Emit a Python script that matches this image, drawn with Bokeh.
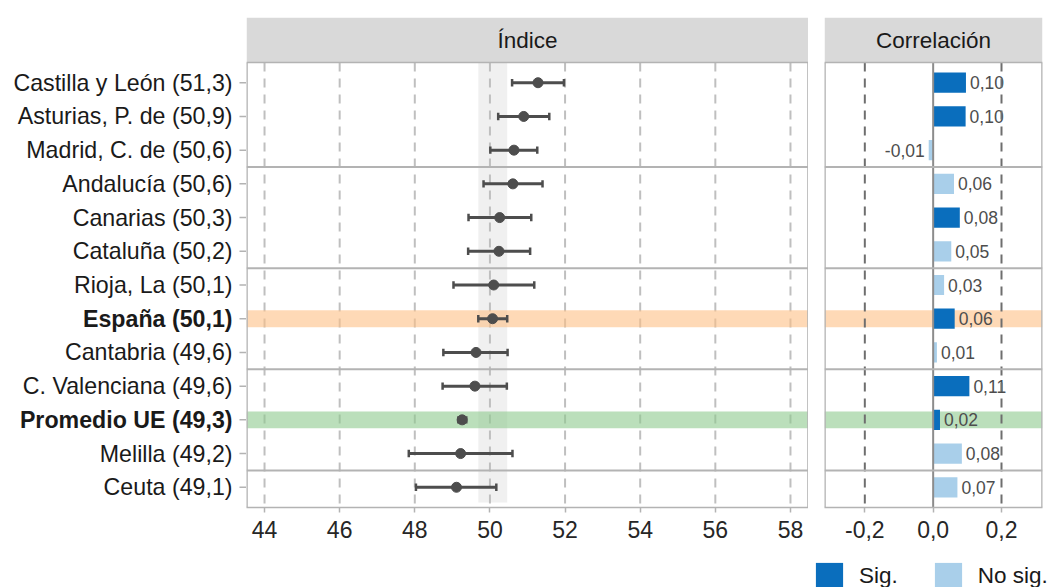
from bokeh.plotting import figure
from bokeh.layouts import row, column
from bokeh.models import ColumnDataSource, Range1d, FixedTicker, Legend, LegendItem
from bokeh.core.properties import value
from bokeh.embed import file_html
from bokeh.resources import INLINE

# ---------------- data ----------------
regions = ["Castilla y León", "Asturias, P. de", "Madrid, C. de", "Andalucía", "Canarias",
           "Cataluña", "Rioja, La", "España", "Cantabria", "C. Valenciana",
           "Promedio UE", "Melilla", "Ceuta"]
region_labels = ["Castilla y León (51,3)", "Asturias, P. de (50,9)", "Madrid, C. de (50,6)",
                 "Andalucía (50,6)", "Canarias (50,3)", "Cataluña (50,2)", "Rioja, La (50,1)",
                 "España (50,1)", "Cantabria (49,6)", "C. Valenciana (49,6)",
                 "Promedio UE (49,3)", "Melilla (49,2)", "Ceuta (49,1)"]
groups = [1, 1, 1, 2, 2, 2, 3, 3, 3, 4, 4, 4, 5]
index_est = [51.28, 50.90, 50.64, 50.61, 50.26, 50.24, 50.10, 50.07, 49.63, 49.60, 49.26, 49.22, 49.11]
ci_low = [50.59, 50.22, 50.01, 49.83, 49.43, 49.42, 49.03, 49.69, 48.76, 48.74, 49.16, 47.84, 48.03]
ci_high = [51.97, 51.58, 51.26, 51.40, 51.10, 51.07, 51.18, 50.46, 50.47, 50.45, 49.37, 50.60, 50.17]
corr = [0.096, 0.095, -0.013, 0.061, 0.078, 0.053, 0.032, 0.063, 0.011, 0.106, 0.020, 0.084, 0.071]
corr_labels = ["0,10", "0,10", "-0,01", "0,06", "0,08", "0,05", "0,03", "0,06", "0,01",
               "0,11", "0,02", "0,08", "0,07"]
significant = [True, True, False, False, True, False, False, True, False, True, True, False, False]
highlight = {"España": "#FDBF86", "Promedio UE": "#8DC98D"}
bold_rows = ["España", "Promedio UE"]
reference_row = "España"

index_ticks = [44, 46, 48, 50, 52, 54, 56, 58]
corr_ticks = [-0.2, 0.0, 0.2]
corr_tick_labels = ["-0,2", "0,0", "0,2"]
corr_ref_lines = [-0.2, 0.2]
panel_titles = ["Índice", "Correlación"]
legend_labels = ["Sig.", "No sig."]

# ---------------- style ----------------
FONT = "Liberation Sans"
SIG_COLOR = "#0A6EBD"
NOSIG_COLOR = "#A9CFEA"
BORDER = "#B3B3B3"
STRIP = "#D9D9D9"
DARK = "#4D4D4D"

n = len(regions)
ypos = list(range(1, n + 1))
Y_BOT = n + 0.6
PANEL_TOP = 0.4
Y_TOP = PANEL_TOP - 1.335
FRAME_H = 490
TOP_BORDER = 17
BOTTOM_BORDER = 45
LEG_H = 587 - TOP_BORDER - FRAME_H - BOTTOM_BORDER
LEG_GLYPH = 34

seps = [i + 0.5 for i in range(1, n) if groups[i] != groups[i - 1]]
hl_y = [ypos[i] for i, r in enumerate(regions) if r in highlight]
hl_c = [highlight[r] for r in regions if r in highlight]


def make_panel(x0, x1, fw, left_border, right_border, title):
    p = figure(frame_width=fw, frame_height=FRAME_H, x_range=Range1d(x0, x1),
               y_range=Range1d(Y_BOT, Y_TOP), output_backend="svg", toolbar_location=None,
               y_axis_location=None, min_border_left=left_border, min_border_right=right_border,
               min_border_top=TOP_BORDER, min_border_bottom=BOTTOM_BORDER)
    p.outline_line_color = None
    p.xgrid.visible = False
    p.ygrid.visible = False
    # strip
    p.quad(left=[x0], right=[x1], top=[Y_TOP], bottom=[PANEL_TOP], fill_color=STRIP, line_color=None)
    p.text(x=[(x0 + x1) / 2], y=[(Y_TOP + PANEL_TOP) / 2], text=[title], text_align="center",
           text_baseline="middle", text_font=value(FONT), text_font_size="22.5px", text_color="#1A1A1A")
    ax = p.xaxis[0]
    ax.axis_line_color = BORDER
    ax.axis_line_width = 1.3
    ax.major_tick_line_color = BORDER
    ax.major_tick_line_width = 1.5
    ax.major_tick_out = 5
    ax.major_tick_in = 0
    ax.minor_tick_out = 0
    ax.minor_tick_in = 0
    ax.major_label_standoff = 8
    ax.major_label_text_font = FONT
    ax.major_label_text_font_size = "23px"
    ax.major_label_text_color = "#262626"
    return p


def add_common(p, x0, x1):
    # highlight rows
    p.quad(left=x0, right=x1, top=[y - 0.25 for y in hl_y], bottom=[y + 0.25 for y in hl_y],
           fill_color=hl_c, fill_alpha=0.6, line_color=None)


def add_borders(p, x0, x1):
    p.segment(x0=[x0] * len(seps), y0=seps, x1=[x1] * len(seps), y1=seps,
              line_color=BORDER, line_width=2)
    p.segment(x0=[x0, x1], y0=[PANEL_TOP] * 2, x1=[x0, x1], y1=[Y_BOT] * 2,
              line_color=BORDER, line_width=2.6)
    p.segment(x0=[x0], y0=[PANEL_TOP], x1=[x1], y1=[PANEL_TOP], line_color=BORDER, line_width=1.3)


# ---------------- labels panel ----------------
p0 = figure(frame_width=246, frame_height=FRAME_H, x_range=Range1d(0, 246),
            y_range=Range1d(Y_BOT, Y_TOP), output_backend="svg", toolbar_location=None,
            x_axis_location=None, y_axis_location=None, min_border_left=0, min_border_right=0,
            min_border_top=TOP_BORDER, min_border_bottom=0)
p0.outline_line_color = None
p0.xgrid.visible = False
p0.ygrid.visible = False
lab_src = ColumnDataSource(dict(
    y=ypos, text=region_labels,
    fstyle=["bold" if r in bold_rows else "normal" for r in regions]))
p0.text(x=232, y="y", text="text", source=lab_src, text_align="right", text_baseline="middle",
        text_font=value(FONT), text_font_size="23.2px", text_color="#1A1A1A", text_font_style="fstyle")
p0.segment(x0=239, y0="y", x1=246, y1="y", source=lab_src, line_color=BORDER, line_width=1.5)

# ---------------- index panel ----------------
IX0, IX1 = 43.52, 58.48
p1 = make_panel(IX0, IX1, 562, 0, 0, panel_titles[0])
e = regions.index(reference_row)
p1.quad(left=[ci_low[e]], right=[ci_high[e]], top=[PANEL_TOP], bottom=[n + 0.45],
        fill_color=STRIP, fill_alpha=0.4, line_color=None)
p1.segment(x0=index_ticks, y0=PANEL_TOP, x1=index_ticks, y1=Y_BOT, line_color="#BFBFBF",
           line_width=2, line_dash="9 7")
add_common(p1, IX0, IX1)
src = ColumnDataSource(dict(y=ypos, est=index_est, lo=ci_low, hi=ci_high,
                            ylo=[y - 0.11 for y in ypos], yhi=[y + 0.11 for y in ypos]))
p1.segment(x0="lo", y0="y", x1="hi", y1="y", source=src, line_color=DARK, line_width=3)
p1.segment(x0="lo", y0="ylo", x1="lo", y1="yhi", source=src, line_color=DARK, line_width=2.5)
p1.segment(x0="hi", y0="ylo", x1="hi", y1="yhi", source=src, line_color=DARK, line_width=2.5)
p1.scatter(x="est", y="y", source=src, size=10, color=DARK)
add_borders(p1, IX0, IX1)
p1.xaxis.ticker = FixedTicker(ticks=index_ticks)

# ---------------- correlation panel ----------------
CX0, CX1 = -0.318, 0.32
p2 = make_panel(CX0, CX1, 218, 16, 8, panel_titles[1])
add_common(p2, CX0, CX1)
sig_src = ColumnDataSource(dict(y=[ypos[i] for i in range(n) if significant[i]],
                                v=[corr[i] for i in range(n) if significant[i]]))
ns_src = ColumnDataSource(dict(y=[ypos[i] for i in range(n) if not significant[i]],
                               v=[corr[i] for i in range(n) if not significant[i]]))
p2.hbar(y="y", left=0, right="v", height=0.6, source=sig_src, fill_color=SIG_COLOR, line_color=None)
p2.hbar(y="y", left=0, right="v", height=0.6, source=ns_src, fill_color=NOSIG_COLOR, line_color=None)
txt_src = ColumnDataSource(dict(
    y=ypos, x=corr, text=corr_labels,
    align=["left" if c >= 0 else "right" for c in corr],
    off=[4 if c >= 0 else -4 for c in corr]))
p2.text(x="x", y="y", text="text", source=txt_src, text_align="align", x_offset="off",
        text_baseline="middle", text_font=value(FONT), text_font_size="17.5px", text_color=DARK)
p2.segment(x0=corr_ref_lines, y0=PANEL_TOP, x1=corr_ref_lines, y1=Y_BOT, line_color="#6E6E6E",
           line_width=2, line_dash="9 7")
p2.segment(x0=[0], y0=[PANEL_TOP], x1=[0], y1=[Y_BOT], line_color="#8C8C8C", line_width=2)
add_borders(p2, CX0, CX1)
p2.xaxis.ticker = FixedTicker(ticks=corr_ticks)
p2.xaxis.major_label_overrides = {t: l for t, l in zip(corr_ticks, corr_tick_labels)}

# ---------------- legend strip ----------------
pl = figure(frame_width=1050, frame_height=LEG_H, x_range=Range1d(0, 1050), y_range=Range1d(0, LEG_H),
            output_backend="svg", toolbar_location=None, x_axis_location=None, y_axis_location=None,
            min_border=0)
pl.outline_line_color = None
pl.xgrid.visible = False
pl.ygrid.visible = False
# zero-area proxy glyphs: they only provide the legend swatches
leg_src = ColumnDataSource(dict(l=[0], r=[0], t=[0], b=[0]))
r_sig = pl.quad(left="l", right="r", top="t", bottom="b", source=leg_src, fill_color=SIG_COLOR, line_color=None)
r_ns = pl.quad(left="l", right="r", top="t", bottom="b", source=leg_src, fill_color=NOSIG_COLOR, line_color=None)
legend = Legend(items=[LegendItem(label=legend_labels[0], renderers=[r_sig]),
                       LegendItem(label=legend_labels[1], renderers=[r_ns])],
                orientation="horizontal", location=(812, LEG_H - 6.6 - LEG_GLYPH),
                glyph_width=LEG_GLYPH, glyph_height=LEG_GLYPH,
                label_text_font=FONT, label_text_font_size="22.5px", label_text_color="#1A1A1A",
                label_standoff=13, spacing=33, padding=0, margin=0,
                border_line_color=None, background_fill_alpha=0)
pl.add_layout(legend, "center")

layout = column(row(p0, p1, p2), pl)
open("out.html", "w").write(file_html(layout, INLINE))
